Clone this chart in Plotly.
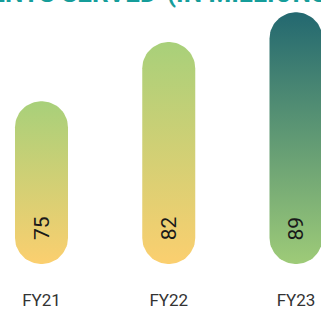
import numpy as np
import plotly.graph_objects as go

# ---- data ----
categories = ["FY21", "FY22", "FY23"]
values = [75, 82, 89]                 # printed values (millions)
bar_heights = [64.7, 88.2, 100.0]     # relative bar heights (%)
top_colors = ["#a8d07a", "#a8d07a", "#236870"]
bottom_colors = ["#fbcf6f", "#fbcf6f", "#9ecb78"]
title_main = "PATIENTS SERVED"
title_unit = "(IN MILLIONS)"

# ---- layout geometry ----
W, H = 321, 310
ml, mr, mt, mb = 0, 0, 0, 18
plot_w = W - ml - mr
plot_h = H - mt - mb

x_step_px = 127.25
x_first_px = 41.5
x_range = [-(x_first_px) / x_step_px, (plot_w - x_first_px) / x_step_px]
px_per_x = plot_w / (x_range[1] - x_range[0])

base_px = 267.7   # from top of page
full_px = 12.5
px_per_y = (base_px - full_px) / 100.0
y_range = [-(H - mb - base_px) / px_per_y, (base_px - mt) / px_per_y]

bar_w_px = 53
r_px = bar_w_px / 2
rx = r_px / px_per_x
ry = r_px / px_per_y


def pill(xc, h):
    t_top = np.linspace(0, np.pi, 40)
    t_bot = np.linspace(np.pi, 2 * np.pi, 40)
    xs = list(xc + rx * np.cos(t_top)) + list(xc + rx * np.cos(t_bot))
    ys = list((h - ry) + ry * np.sin(t_top)) + list(ry + ry * np.sin(t_bot))
    xs.append(xs[0])
    ys.append(ys[0])
    return xs, ys


fig = go.Figure()
for i, (cat, v, h) in enumerate(zip(categories, values, bar_heights)):
    xs, ys = pill(i, h)
    fig.add_trace(go.Scatter(
        x=xs, y=ys, mode="lines", fill="toself",
        line=dict(width=0, color="rgba(0,0,0,0)"),
        fillgradient=dict(type="vertical",
                          colorscale=[[0, bottom_colors[i]], [1, top_colors[i]]]),
        hoverinfo="skip", showlegend=False,
    ))
    fig.add_annotation(
        x=i, y=36 / px_per_y, xref="x", yref="y", text=str(v),
        showarrow=False, textangle=-90,
        font=dict(family="Roboto", size=21, color="#1a1a1a"),
    )

title_font = dict(family="Roboto", size=26, color="#159d9a")
split_x = 165 / W
fig.add_annotation(
    x=split_x, y=1, xref="paper", yref="paper", xanchor="right", yanchor="bottom",
    yshift=-10, text="<b>" + title_main + " </b>", showarrow=False, font=title_font,
)
fig.add_annotation(
    x=split_x, y=1, xref="paper", yref="paper", xanchor="left", yanchor="bottom",
    yshift=-10, text="<b>" + title_unit + "</b>", showarrow=False, font=title_font,
)

fig.update_layout(
    width=W, height=H,
    margin=dict(l=ml, r=mr, t=mt, b=mb, pad=0),
    paper_bgcolor="white", plot_bgcolor="white",
    xaxis=dict(range=x_range, tickvals=list(range(len(categories))), ticktext=categories,
               showgrid=False, zeroline=False, showline=False, ticks="",
               tickfont=dict(family="Roboto", size=17, color="#333333"), fixedrange=True),
    yaxis=dict(range=y_range, visible=False, fixedrange=True),
)

fig.write_html("out.html", config={"displayModeBar": False},
               post_script="document.body.style.margin='0';document.body.style.overflow='hidden';")
